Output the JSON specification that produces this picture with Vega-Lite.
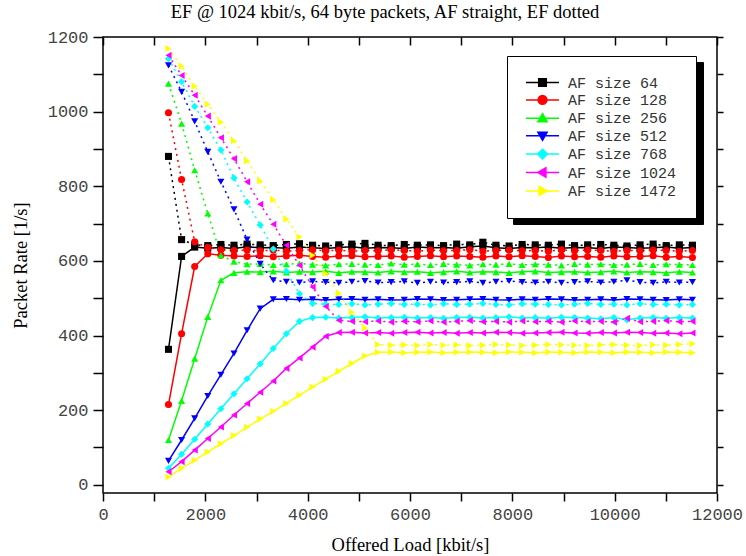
{
"$schema": "https://vega.github.io/schema/vega-lite/v6.json",
"width": 614, "height": 456,
"autosize": "none",
"padding": {"left": 103, "top": 37, "right": 29, "bottom": 63},
"background": "white",
"title": {"text": "EF @ 1024 kbit/s, 64 byte packets, AF straight, EF dotted", "font": "Liberation Serif", "fontSize": 18.5, "fontWeight": "normal", "color": "black", "anchor": "middle", "offset": 7, "dx": -25},
"datasets": {
"leg": [{"z":"AF size 64"},{"z":"AF size 128"},{"z":"AF size 256"},{"z":"AF size 512"},{"z":"AF size 768"},{"z":"AF size 1024"},{"z":"AF size 1472"}],
"main": [
{"l":1280,"z":"64","t":"AF","r":363},{"l":1536,"z":"64","t":"AF","r":612},{"l":1792,"z":"64","t":"AF","r":637},{"l":2048,"z":"64","t":"AF","r":634},{"l":2304,"z":"64","t":"AF","r":636},{"l":2560,"z":"64","t":"AF","r":633},{"l":2816,"z":"64","t":"AF","r":638},{"l":3072,"z":"64","t":"AF","r":635},{"l":3328,"z":"64","t":"AF","r":636},{"l":3584,"z":"64","t":"AF","r":634},{"l":3840,"z":"64","t":"AF","r":637},{"l":4096,"z":"64","t":"AF","r":635},{"l":4352,"z":"64","t":"AF","r":633},{"l":4608,"z":"64","t":"AF","r":636},{"l":4864,"z":"64","t":"AF","r":638},{"l":5120,"z":"64","t":"AF","r":634},{"l":5376,"z":"64","t":"AF","r":636},{"l":5632,"z":"64","t":"AF","r":635},{"l":5888,"z":"64","t":"AF","r":633},{"l":6144,"z":"64","t":"AF","r":637},{"l":6400,"z":"64","t":"AF","r":635},{"l":6656,"z":"64","t":"AF","r":636},{"l":6912,"z":"64","t":"AF","r":634},{"l":7168,"z":"64","t":"AF","r":638},{"l":7424,"z":"64","t":"AF","r":640},{"l":7680,"z":"64","t":"AF","r":635},{"l":7936,"z":"64","t":"AF","r":633},{"l":8192,"z":"64","t":"AF","r":636},{"l":8448,"z":"64","t":"AF","r":635},{"l":8704,"z":"64","t":"AF","r":637},{"l":8960,"z":"64","t":"AF","r":634},{"l":9216,"z":"64","t":"AF","r":636},{"l":9472,"z":"64","t":"AF","r":635},{"l":9728,"z":"64","t":"AF","r":633},{"l":9984,"z":"64","t":"AF","r":637},{"l":10240,"z":"64","t":"AF","r":636},{"l":10496,"z":"64","t":"AF","r":634},{"l":10752,"z":"64","t":"AF","r":635},{"l":11008,"z":"64","t":"AF","r":637},{"l":11264,"z":"64","t":"AF","r":634},{"l":11520,"z":"64","t":"AF","r":636},
{"l":1280,"z":"64","t":"EF","r":880},{"l":1536,"z":"64","t":"EF","r":657},{"l":1792,"z":"64","t":"EF","r":643},{"l":2048,"z":"64","t":"EF","r":641},{"l":2304,"z":"64","t":"EF","r":644},{"l":2560,"z":"64","t":"EF","r":642},{"l":2816,"z":"64","t":"EF","r":645},{"l":3072,"z":"64","t":"EF","r":643},{"l":3328,"z":"64","t":"EF","r":641},{"l":3584,"z":"64","t":"EF","r":644},{"l":3840,"z":"64","t":"EF","r":646},{"l":4096,"z":"64","t":"EF","r":642},{"l":4352,"z":"64","t":"EF","r":640},{"l":4608,"z":"64","t":"EF","r":643},{"l":4864,"z":"64","t":"EF","r":645},{"l":5120,"z":"64","t":"EF","r":647},{"l":5376,"z":"64","t":"EF","r":642},{"l":5632,"z":"64","t":"EF","r":641},{"l":5888,"z":"64","t":"EF","r":644},{"l":6144,"z":"64","t":"EF","r":642},{"l":6400,"z":"64","t":"EF","r":643},{"l":6656,"z":"64","t":"EF","r":641},{"l":6912,"z":"64","t":"EF","r":645},{"l":7168,"z":"64","t":"EF","r":643},{"l":7424,"z":"64","t":"EF","r":650},{"l":7680,"z":"64","t":"EF","r":642},{"l":7936,"z":"64","t":"EF","r":640},{"l":8192,"z":"64","t":"EF","r":644},{"l":8448,"z":"64","t":"EF","r":643},{"l":8704,"z":"64","t":"EF","r":642},{"l":8960,"z":"64","t":"EF","r":645},{"l":9216,"z":"64","t":"EF","r":641},{"l":9472,"z":"64","t":"EF","r":643},{"l":9728,"z":"64","t":"EF","r":644},{"l":9984,"z":"64","t":"EF","r":642},{"l":10240,"z":"64","t":"EF","r":640},{"l":10496,"z":"64","t":"EF","r":643},{"l":10752,"z":"64","t":"EF","r":645},{"l":11008,"z":"64","t":"EF","r":641},{"l":11264,"z":"64","t":"EF","r":643},{"l":11520,"z":"64","t":"EF","r":642},
{"l":1280,"z":"128","t":"AF","r":215},{"l":1536,"z":"128","t":"AF","r":405},{"l":1792,"z":"128","t":"AF","r":585},{"l":2048,"z":"128","t":"AF","r":619},{"l":2304,"z":"128","t":"AF","r":615},{"l":2560,"z":"128","t":"AF","r":613},{"l":2816,"z":"128","t":"AF","r":612},{"l":3072,"z":"128","t":"AF","r":614},{"l":3328,"z":"128","t":"AF","r":611},{"l":3584,"z":"128","t":"AF","r":613},{"l":3840,"z":"128","t":"AF","r":615},{"l":4096,"z":"128","t":"AF","r":612},{"l":4352,"z":"128","t":"AF","r":610},{"l":4608,"z":"128","t":"AF","r":613},{"l":4864,"z":"128","t":"AF","r":614},{"l":5120,"z":"128","t":"AF","r":611},{"l":5376,"z":"128","t":"AF","r":612},{"l":5632,"z":"128","t":"AF","r":613},{"l":5888,"z":"128","t":"AF","r":610},{"l":6144,"z":"128","t":"AF","r":612},{"l":6400,"z":"128","t":"AF","r":614},{"l":6656,"z":"128","t":"AF","r":611},{"l":6912,"z":"128","t":"AF","r":613},{"l":7168,"z":"128","t":"AF","r":612},{"l":7424,"z":"128","t":"AF","r":610},{"l":7680,"z":"128","t":"AF","r":613},{"l":7936,"z":"128","t":"AF","r":611},{"l":8192,"z":"128","t":"AF","r":614},{"l":8448,"z":"128","t":"AF","r":612},{"l":8704,"z":"128","t":"AF","r":609},{"l":8960,"z":"128","t":"AF","r":613},{"l":9216,"z":"128","t":"AF","r":611},{"l":9472,"z":"128","t":"AF","r":612},{"l":9728,"z":"128","t":"AF","r":610},{"l":9984,"z":"128","t":"AF","r":613},{"l":10240,"z":"128","t":"AF","r":611},{"l":10496,"z":"128","t":"AF","r":612},{"l":10752,"z":"128","t":"AF","r":614},{"l":11008,"z":"128","t":"AF","r":610},{"l":11264,"z":"128","t":"AF","r":612},{"l":11520,"z":"128","t":"AF","r":609},
{"l":1280,"z":"128","t":"EF","r":997},{"l":1536,"z":"128","t":"EF","r":818},{"l":1792,"z":"128","t":"EF","r":651},{"l":2048,"z":"128","t":"EF","r":636},{"l":2304,"z":"128","t":"EF","r":630},{"l":2560,"z":"128","t":"EF","r":628},{"l":2816,"z":"128","t":"EF","r":629},{"l":3072,"z":"128","t":"EF","r":627},{"l":3328,"z":"128","t":"EF","r":629},{"l":3584,"z":"128","t":"EF","r":626},{"l":3840,"z":"128","t":"EF","r":628},{"l":4096,"z":"128","t":"EF","r":630},{"l":4352,"z":"128","t":"EF","r":627},{"l":4608,"z":"128","t":"EF","r":629},{"l":4864,"z":"128","t":"EF","r":626},{"l":5120,"z":"128","t":"EF","r":628},{"l":5376,"z":"128","t":"EF","r":627},{"l":5632,"z":"128","t":"EF","r":630},{"l":5888,"z":"128","t":"EF","r":628},{"l":6144,"z":"128","t":"EF","r":626},{"l":6400,"z":"128","t":"EF","r":629},{"l":6656,"z":"128","t":"EF","r":627},{"l":6912,"z":"128","t":"EF","r":628},{"l":7168,"z":"128","t":"EF","r":630},{"l":7424,"z":"128","t":"EF","r":626},{"l":7680,"z":"128","t":"EF","r":628},{"l":7936,"z":"128","t":"EF","r":629},{"l":8192,"z":"128","t":"EF","r":627},{"l":8448,"z":"128","t":"EF","r":628},{"l":8704,"z":"128","t":"EF","r":626},{"l":8960,"z":"128","t":"EF","r":630},{"l":9216,"z":"128","t":"EF","r":627},{"l":9472,"z":"128","t":"EF","r":629},{"l":9728,"z":"128","t":"EF","r":628},{"l":9984,"z":"128","t":"EF","r":626},{"l":10240,"z":"128","t":"EF","r":628},{"l":10496,"z":"128","t":"EF","r":627},{"l":10752,"z":"128","t":"EF","r":629},{"l":11008,"z":"128","t":"EF","r":628},{"l":11264,"z":"128","t":"EF","r":626},{"l":11520,"z":"128","t":"EF","r":628},
{"l":1280,"z":"256","t":"AF","r":120},{"l":1536,"z":"256","t":"AF","r":225},{"l":1792,"z":"256","t":"AF","r":338},{"l":2048,"z":"256","t":"AF","r":450},{"l":2304,"z":"256","t":"AF","r":548},{"l":2560,"z":"256","t":"AF","r":568},{"l":2816,"z":"256","t":"AF","r":571},{"l":3072,"z":"256","t":"AF","r":570},{"l":3328,"z":"256","t":"AF","r":572},{"l":3584,"z":"256","t":"AF","r":569},{"l":3840,"z":"256","t":"AF","r":571},{"l":4096,"z":"256","t":"AF","r":570},{"l":4352,"z":"256","t":"AF","r":572},{"l":4608,"z":"256","t":"AF","r":568},{"l":4864,"z":"256","t":"AF","r":571},{"l":5120,"z":"256","t":"AF","r":570},{"l":5376,"z":"256","t":"AF","r":569},{"l":5632,"z":"256","t":"AF","r":572},{"l":5888,"z":"256","t":"AF","r":570},{"l":6144,"z":"256","t":"AF","r":571},{"l":6400,"z":"256","t":"AF","r":568},{"l":6656,"z":"256","t":"AF","r":570},{"l":6912,"z":"256","t":"AF","r":572},{"l":7168,"z":"256","t":"AF","r":569},{"l":7424,"z":"256","t":"AF","r":571},{"l":7680,"z":"256","t":"AF","r":570},{"l":7936,"z":"256","t":"AF","r":568},{"l":8192,"z":"256","t":"AF","r":571},{"l":8448,"z":"256","t":"AF","r":572},{"l":8704,"z":"256","t":"AF","r":569},{"l":8960,"z":"256","t":"AF","r":570},{"l":9216,"z":"256","t":"AF","r":571},{"l":9472,"z":"256","t":"AF","r":569},{"l":9728,"z":"256","t":"AF","r":570},{"l":9984,"z":"256","t":"AF","r":572},{"l":10240,"z":"256","t":"AF","r":569},{"l":10496,"z":"256","t":"AF","r":571},{"l":10752,"z":"256","t":"AF","r":570},{"l":11008,"z":"256","t":"AF","r":568},{"l":11264,"z":"256","t":"AF","r":571},{"l":11520,"z":"256","t":"AF","r":569},
{"l":1280,"z":"256","t":"EF","r":1075},{"l":1536,"z":"256","t":"EF","r":968},{"l":1792,"z":"256","t":"EF","r":843},{"l":2048,"z":"256","t":"EF","r":727},{"l":2304,"z":"256","t":"EF","r":615},{"l":2560,"z":"256","t":"EF","r":598},{"l":2816,"z":"256","t":"EF","r":591},{"l":3072,"z":"256","t":"EF","r":592},{"l":3328,"z":"256","t":"EF","r":589},{"l":3584,"z":"256","t":"EF","r":591},{"l":3840,"z":"256","t":"EF","r":593},{"l":4096,"z":"256","t":"EF","r":590},{"l":4352,"z":"256","t":"EF","r":588},{"l":4608,"z":"256","t":"EF","r":591},{"l":4864,"z":"256","t":"EF","r":592},{"l":5120,"z":"256","t":"EF","r":590},{"l":5376,"z":"256","t":"EF","r":589},{"l":5632,"z":"256","t":"EF","r":593},{"l":5888,"z":"256","t":"EF","r":590},{"l":6144,"z":"256","t":"EF","r":591},{"l":6400,"z":"256","t":"EF","r":589},{"l":6656,"z":"256","t":"EF","r":592},{"l":6912,"z":"256","t":"EF","r":590},{"l":7168,"z":"256","t":"EF","r":588},{"l":7424,"z":"256","t":"EF","r":591},{"l":7680,"z":"256","t":"EF","r":590},{"l":7936,"z":"256","t":"EF","r":592},{"l":8192,"z":"256","t":"EF","r":589},{"l":8448,"z":"256","t":"EF","r":591},{"l":8704,"z":"256","t":"EF","r":590},{"l":8960,"z":"256","t":"EF","r":588},{"l":9216,"z":"256","t":"EF","r":592},{"l":9472,"z":"256","t":"EF","r":590},{"l":9728,"z":"256","t":"EF","r":591},{"l":9984,"z":"256","t":"EF","r":589},{"l":10240,"z":"256","t":"EF","r":590},{"l":10496,"z":"256","t":"EF","r":592},{"l":10752,"z":"256","t":"EF","r":589},{"l":11008,"z":"256","t":"EF","r":591},{"l":11264,"z":"256","t":"EF","r":590},{"l":11520,"z":"256","t":"EF","r":589},
{"l":1280,"z":"512","t":"AF","r":64},{"l":1536,"z":"512","t":"AF","r":120},{"l":1792,"z":"512","t":"AF","r":178},{"l":2048,"z":"512","t":"AF","r":238},{"l":2304,"z":"512","t":"AF","r":295},{"l":2560,"z":"512","t":"AF","r":352},{"l":2816,"z":"512","t":"AF","r":414},{"l":3072,"z":"512","t":"AF","r":472},{"l":3328,"z":"512","t":"AF","r":497},{"l":3584,"z":"512","t":"AF","r":498},{"l":3840,"z":"512","t":"AF","r":496},{"l":4096,"z":"512","t":"AF","r":497},{"l":4352,"z":"512","t":"AF","r":495},{"l":4608,"z":"512","t":"AF","r":497},{"l":4864,"z":"512","t":"AF","r":498},{"l":5120,"z":"512","t":"AF","r":496},{"l":5376,"z":"512","t":"AF","r":497},{"l":5632,"z":"512","t":"AF","r":495},{"l":5888,"z":"512","t":"AF","r":496},{"l":6144,"z":"512","t":"AF","r":498},{"l":6400,"z":"512","t":"AF","r":497},{"l":6656,"z":"512","t":"AF","r":495},{"l":6912,"z":"512","t":"AF","r":496},{"l":7168,"z":"512","t":"AF","r":497},{"l":7424,"z":"512","t":"AF","r":498},{"l":7680,"z":"512","t":"AF","r":496},{"l":7936,"z":"512","t":"AF","r":495},{"l":8192,"z":"512","t":"AF","r":497},{"l":8448,"z":"512","t":"AF","r":496},{"l":8704,"z":"512","t":"AF","r":498},{"l":8960,"z":"512","t":"AF","r":497},{"l":9216,"z":"512","t":"AF","r":495},{"l":9472,"z":"512","t":"AF","r":496},{"l":9728,"z":"512","t":"AF","r":497},{"l":9984,"z":"512","t":"AF","r":495},{"l":10240,"z":"512","t":"AF","r":498},{"l":10496,"z":"512","t":"AF","r":497},{"l":10752,"z":"512","t":"AF","r":496},{"l":11008,"z":"512","t":"AF","r":495},{"l":11264,"z":"512","t":"AF","r":497},{"l":11520,"z":"512","t":"AF","r":496},
{"l":1280,"z":"512","t":"EF","r":1124},{"l":1536,"z":"512","t":"EF","r":1053},{"l":1792,"z":"512","t":"EF","r":974},{"l":2048,"z":"512","t":"EF","r":892},{"l":2304,"z":"512","t":"EF","r":812},{"l":2560,"z":"512","t":"EF","r":738},{"l":2816,"z":"512","t":"EF","r":657},{"l":3072,"z":"512","t":"EF","r":592},{"l":3328,"z":"512","t":"EF","r":548},{"l":3584,"z":"512","t":"EF","r":544},{"l":3840,"z":"512","t":"EF","r":542},{"l":4096,"z":"512","t":"EF","r":545},{"l":4352,"z":"512","t":"EF","r":543},{"l":4608,"z":"512","t":"EF","r":541},{"l":4864,"z":"512","t":"EF","r":544},{"l":5120,"z":"512","t":"EF","r":546},{"l":5376,"z":"512","t":"EF","r":542},{"l":5632,"z":"512","t":"EF","r":543},{"l":5888,"z":"512","t":"EF","r":545},{"l":6144,"z":"512","t":"EF","r":541},{"l":6400,"z":"512","t":"EF","r":544},{"l":6656,"z":"512","t":"EF","r":542},{"l":6912,"z":"512","t":"EF","r":543},{"l":7168,"z":"512","t":"EF","r":545},{"l":7424,"z":"512","t":"EF","r":541},{"l":7680,"z":"512","t":"EF","r":544},{"l":7936,"z":"512","t":"EF","r":546},{"l":8192,"z":"512","t":"EF","r":543},{"l":8448,"z":"512","t":"EF","r":542},{"l":8704,"z":"512","t":"EF","r":544},{"l":8960,"z":"512","t":"EF","r":541},{"l":9216,"z":"512","t":"EF","r":543},{"l":9472,"z":"512","t":"EF","r":545},{"l":9728,"z":"512","t":"EF","r":542},{"l":9984,"z":"512","t":"EF","r":544},{"l":10240,"z":"512","t":"EF","r":548},{"l":10496,"z":"512","t":"EF","r":543},{"l":10752,"z":"512","t":"EF","r":541},{"l":11008,"z":"512","t":"EF","r":544},{"l":11264,"z":"512","t":"EF","r":542},{"l":11520,"z":"512","t":"EF","r":543},
{"l":1280,"z":"768","t":"AF","r":44},{"l":1536,"z":"768","t":"AF","r":82},{"l":1792,"z":"768","t":"AF","r":122},{"l":2048,"z":"768","t":"AF","r":163},{"l":2304,"z":"768","t":"AF","r":204},{"l":2560,"z":"768","t":"AF","r":244},{"l":2816,"z":"768","t":"AF","r":284},{"l":3072,"z":"768","t":"AF","r":324},{"l":3328,"z":"768","t":"AF","r":365},{"l":3584,"z":"768","t":"AF","r":405},{"l":3840,"z":"768","t":"AF","r":438},{"l":4096,"z":"768","t":"AF","r":448},{"l":4352,"z":"768","t":"AF","r":449},{"l":4608,"z":"768","t":"AF","r":447},{"l":4864,"z":"768","t":"AF","r":448},{"l":5120,"z":"768","t":"AF","r":450},{"l":5376,"z":"768","t":"AF","r":447},{"l":5632,"z":"768","t":"AF","r":448},{"l":5888,"z":"768","t":"AF","r":449},{"l":6144,"z":"768","t":"AF","r":447},{"l":6400,"z":"768","t":"AF","r":448},{"l":6656,"z":"768","t":"AF","r":446},{"l":6912,"z":"768","t":"AF","r":448},{"l":7168,"z":"768","t":"AF","r":449},{"l":7424,"z":"768","t":"AF","r":447},{"l":7680,"z":"768","t":"AF","r":448},{"l":7936,"z":"768","t":"AF","r":450},{"l":8192,"z":"768","t":"AF","r":447},{"l":8448,"z":"768","t":"AF","r":448},{"l":8704,"z":"768","t":"AF","r":446},{"l":8960,"z":"768","t":"AF","r":449},{"l":9216,"z":"768","t":"AF","r":448},{"l":9472,"z":"768","t":"AF","r":447},{"l":9728,"z":"768","t":"AF","r":445},{"l":9984,"z":"768","t":"AF","r":448},{"l":10240,"z":"768","t":"AF","r":442},{"l":10496,"z":"768","t":"AF","r":447},{"l":10752,"z":"768","t":"AF","r":448},{"l":11008,"z":"768","t":"AF","r":446},{"l":11264,"z":"768","t":"AF","r":448},{"l":11520,"z":"768","t":"AF","r":447},
{"l":1280,"z":"768","t":"EF","r":1142},{"l":1536,"z":"768","t":"EF","r":1080},{"l":1792,"z":"768","t":"EF","r":1014},{"l":2048,"z":"768","t":"EF","r":957},{"l":2304,"z":"768","t":"EF","r":897},{"l":2560,"z":"768","t":"EF","r":822},{"l":2816,"z":"768","t":"EF","r":758},{"l":3072,"z":"768","t":"EF","r":696},{"l":3328,"z":"768","t":"EF","r":632},{"l":3584,"z":"768","t":"EF","r":572},{"l":3840,"z":"768","t":"EF","r":512},{"l":4096,"z":"768","t":"EF","r":486},{"l":4352,"z":"768","t":"EF","r":484},{"l":4608,"z":"768","t":"EF","r":483},{"l":4864,"z":"768","t":"EF","r":485},{"l":5120,"z":"768","t":"EF","r":482},{"l":5376,"z":"768","t":"EF","r":484},{"l":5632,"z":"768","t":"EF","r":486},{"l":5888,"z":"768","t":"EF","r":483},{"l":6144,"z":"768","t":"EF","r":484},{"l":6400,"z":"768","t":"EF","r":482},{"l":6656,"z":"768","t":"EF","r":485},{"l":6912,"z":"768","t":"EF","r":483},{"l":7168,"z":"768","t":"EF","r":484},{"l":7424,"z":"768","t":"EF","r":486},{"l":7680,"z":"768","t":"EF","r":483},{"l":7936,"z":"768","t":"EF","r":482},{"l":8192,"z":"768","t":"EF","r":485},{"l":8448,"z":"768","t":"EF","r":484},{"l":8704,"z":"768","t":"EF","r":483},{"l":8960,"z":"768","t":"EF","r":482},{"l":9216,"z":"768","t":"EF","r":484},{"l":9472,"z":"768","t":"EF","r":486},{"l":9728,"z":"768","t":"EF","r":483},{"l":9984,"z":"768","t":"EF","r":484},{"l":10240,"z":"768","t":"EF","r":482},{"l":10496,"z":"768","t":"EF","r":485},{"l":10752,"z":"768","t":"EF","r":483},{"l":11008,"z":"768","t":"EF","r":484},{"l":11264,"z":"768","t":"EF","r":482},{"l":11520,"z":"768","t":"EF","r":483},
{"l":1280,"z":"1024","t":"AF","r":35},{"l":1536,"z":"1024","t":"AF","r":62},{"l":1792,"z":"1024","t":"AF","r":93},{"l":2048,"z":"1024","t":"AF","r":124},{"l":2304,"z":"1024","t":"AF","r":155},{"l":2560,"z":"1024","t":"AF","r":187},{"l":2816,"z":"1024","t":"AF","r":218},{"l":3072,"z":"1024","t":"AF","r":248},{"l":3328,"z":"1024","t":"AF","r":278},{"l":3584,"z":"1024","t":"AF","r":312},{"l":3840,"z":"1024","t":"AF","r":340},{"l":4096,"z":"1024","t":"AF","r":369},{"l":4352,"z":"1024","t":"AF","r":398},{"l":4608,"z":"1024","t":"AF","r":408},{"l":4864,"z":"1024","t":"AF","r":409},{"l":5120,"z":"1024","t":"AF","r":407},{"l":5376,"z":"1024","t":"AF","r":408},{"l":5632,"z":"1024","t":"AF","r":406},{"l":5888,"z":"1024","t":"AF","r":408},{"l":6144,"z":"1024","t":"AF","r":409},{"l":6400,"z":"1024","t":"AF","r":407},{"l":6656,"z":"1024","t":"AF","r":408},{"l":6912,"z":"1024","t":"AF","r":406},{"l":7168,"z":"1024","t":"AF","r":408},{"l":7424,"z":"1024","t":"AF","r":407},{"l":7680,"z":"1024","t":"AF","r":409},{"l":7936,"z":"1024","t":"AF","r":408},{"l":8192,"z":"1024","t":"AF","r":406},{"l":8448,"z":"1024","t":"AF","r":407},{"l":8704,"z":"1024","t":"AF","r":408},{"l":8960,"z":"1024","t":"AF","r":409},{"l":9216,"z":"1024","t":"AF","r":407},{"l":9472,"z":"1024","t":"AF","r":406},{"l":9728,"z":"1024","t":"AF","r":408},{"l":9984,"z":"1024","t":"AF","r":407},{"l":10240,"z":"1024","t":"AF","r":409},{"l":10496,"z":"1024","t":"AF","r":408},{"l":10752,"z":"1024","t":"AF","r":406},{"l":11008,"z":"1024","t":"AF","r":407},{"l":11264,"z":"1024","t":"AF","r":405},{"l":11520,"z":"1024","t":"AF","r":407},
{"l":1280,"z":"1024","t":"EF","r":1151},{"l":1536,"z":"1024","t":"EF","r":1097},{"l":1792,"z":"1024","t":"EF","r":1044},{"l":2048,"z":"1024","t":"EF","r":988},{"l":2304,"z":"1024","t":"EF","r":930},{"l":2560,"z":"1024","t":"EF","r":874},{"l":2816,"z":"1024","t":"EF","r":812},{"l":3072,"z":"1024","t":"EF","r":752},{"l":3328,"z":"1024","t":"EF","r":698},{"l":3584,"z":"1024","t":"EF","r":642},{"l":3840,"z":"1024","t":"EF","r":588},{"l":4096,"z":"1024","t":"EF","r":530},{"l":4352,"z":"1024","t":"EF","r":478},{"l":4608,"z":"1024","t":"EF","r":441},{"l":4864,"z":"1024","t":"EF","r":438},{"l":5120,"z":"1024","t":"EF","r":437},{"l":5376,"z":"1024","t":"EF","r":439},{"l":5632,"z":"1024","t":"EF","r":436},{"l":5888,"z":"1024","t":"EF","r":438},{"l":6144,"z":"1024","t":"EF","r":437},{"l":6400,"z":"1024","t":"EF","r":439},{"l":6656,"z":"1024","t":"EF","r":436},{"l":6912,"z":"1024","t":"EF","r":438},{"l":7168,"z":"1024","t":"EF","r":440},{"l":7424,"z":"1024","t":"EF","r":437},{"l":7680,"z":"1024","t":"EF","r":438},{"l":7936,"z":"1024","t":"EF","r":436},{"l":8192,"z":"1024","t":"EF","r":439},{"l":8448,"z":"1024","t":"EF","r":437},{"l":8704,"z":"1024","t":"EF","r":438},{"l":8960,"z":"1024","t":"EF","r":436},{"l":9216,"z":"1024","t":"EF","r":439},{"l":9472,"z":"1024","t":"EF","r":437},{"l":9728,"z":"1024","t":"EF","r":438},{"l":9984,"z":"1024","t":"EF","r":436},{"l":10240,"z":"1024","t":"EF","r":446},{"l":10496,"z":"1024","t":"EF","r":437},{"l":10752,"z":"1024","t":"EF","r":438},{"l":11008,"z":"1024","t":"EF","r":440},{"l":11264,"z":"1024","t":"EF","r":437},{"l":11520,"z":"1024","t":"EF","r":438},
{"l":1280,"z":"1472","t":"AF","r":21},{"l":1536,"z":"1472","t":"AF","r":44},{"l":1792,"z":"1472","t":"AF","r":66},{"l":2048,"z":"1472","t":"AF","r":88},{"l":2304,"z":"1472","t":"AF","r":110},{"l":2560,"z":"1472","t":"AF","r":132},{"l":2816,"z":"1472","t":"AF","r":154},{"l":3072,"z":"1472","t":"AF","r":176},{"l":3328,"z":"1472","t":"AF","r":197},{"l":3584,"z":"1472","t":"AF","r":218},{"l":3840,"z":"1472","t":"AF","r":240},{"l":4096,"z":"1472","t":"AF","r":262},{"l":4352,"z":"1472","t":"AF","r":283},{"l":4608,"z":"1472","t":"AF","r":304},{"l":4864,"z":"1472","t":"AF","r":325},{"l":5120,"z":"1472","t":"AF","r":345},{"l":5376,"z":"1472","t":"AF","r":355},{"l":5632,"z":"1472","t":"AF","r":356},{"l":5888,"z":"1472","t":"AF","r":354},{"l":6144,"z":"1472","t":"AF","r":355},{"l":6400,"z":"1472","t":"AF","r":356},{"l":6656,"z":"1472","t":"AF","r":354},{"l":6912,"z":"1472","t":"AF","r":355},{"l":7168,"z":"1472","t":"AF","r":356},{"l":7424,"z":"1472","t":"AF","r":355},{"l":7680,"z":"1472","t":"AF","r":354},{"l":7936,"z":"1472","t":"AF","r":356},{"l":8192,"z":"1472","t":"AF","r":355},{"l":8448,"z":"1472","t":"AF","r":354},{"l":8704,"z":"1472","t":"AF","r":356},{"l":8960,"z":"1472","t":"AF","r":355},{"l":9216,"z":"1472","t":"AF","r":354},{"l":9472,"z":"1472","t":"AF","r":356},{"l":9728,"z":"1472","t":"AF","r":355},{"l":9984,"z":"1472","t":"AF","r":354},{"l":10240,"z":"1472","t":"AF","r":356},{"l":10496,"z":"1472","t":"AF","r":355},{"l":10752,"z":"1472","t":"AF","r":354},{"l":11008,"z":"1472","t":"AF","r":356},{"l":11264,"z":"1472","t":"AF","r":355},{"l":11520,"z":"1472","t":"AF","r":354},
{"l":1280,"z":"1472","t":"EF","r":1169},{"l":1536,"z":"1472","t":"EF","r":1122},{"l":1792,"z":"1472","t":"EF","r":1068},{"l":2048,"z":"1472","t":"EF","r":1020},{"l":2304,"z":"1472","t":"EF","r":972},{"l":2560,"z":"1472","t":"EF","r":922},{"l":2816,"z":"1472","t":"EF","r":868},{"l":3072,"z":"1472","t":"EF","r":814},{"l":3328,"z":"1472","t":"EF","r":764},{"l":3584,"z":"1472","t":"EF","r":712},{"l":3840,"z":"1472","t":"EF","r":664},{"l":4096,"z":"1472","t":"EF","r":615},{"l":4352,"z":"1472","t":"EF","r":566},{"l":4608,"z":"1472","t":"EF","r":513},{"l":4864,"z":"1472","t":"EF","r":462},{"l":5120,"z":"1472","t":"EF","r":420},{"l":5376,"z":"1472","t":"EF","r":376},{"l":5632,"z":"1472","t":"EF","r":374},{"l":5888,"z":"1472","t":"EF","r":375},{"l":6144,"z":"1472","t":"EF","r":373},{"l":6400,"z":"1472","t":"EF","r":376},{"l":6656,"z":"1472","t":"EF","r":374},{"l":6912,"z":"1472","t":"EF","r":375},{"l":7168,"z":"1472","t":"EF","r":373},{"l":7424,"z":"1472","t":"EF","r":374},{"l":7680,"z":"1472","t":"EF","r":376},{"l":7936,"z":"1472","t":"EF","r":375},{"l":8192,"z":"1472","t":"EF","r":373},{"l":8448,"z":"1472","t":"EF","r":374},{"l":8704,"z":"1472","t":"EF","r":376},{"l":8960,"z":"1472","t":"EF","r":375},{"l":9216,"z":"1472","t":"EF","r":374},{"l":9472,"z":"1472","t":"EF","r":373},{"l":9728,"z":"1472","t":"EF","r":375},{"l":9984,"z":"1472","t":"EF","r":376},{"l":10240,"z":"1472","t":"EF","r":374},{"l":10496,"z":"1472","t":"EF","r":373},{"l":10752,"z":"1472","t":"EF","r":375},{"l":11008,"z":"1472","t":"EF","r":374},{"l":11264,"z":"1472","t":"EF","r":376},{"l":11520,"z":"1472","t":"EF","r":378}
]},
"data": {"name": "main"},
"layer": [
{"transform": [{"filter": "datum.t === 'AF'"}],
 "mark": {"type": "line", "strokeWidth": 1.5},
 "encoding": {
  "x": {"field": "l", "type": "quantitative", "scale": {"domain": [0, 12000], "nice": false, "zero": false},
   "axis": {"orient": "bottom", "values": [0,1000,2000,3000,4000,5000,6000,7000,8000,9000,10000,11000,12000], "format": "d", "labelExpr": "datum.value % 2000 === 0 ? datum.label : ''", "title": "Offered Load [kbit/s]", "grid": false, "domain": false, "tickColor": "black", "tickWidth": 1.5, "tickSize": 8, "labelFont": "Liberation Mono", "labelFontSize": 17, "labelColor": "#444", "labelPadding": 5, "labelFlush": false, "labelOverlap": false, "labelBound": false, "titleFont": "Liberation Serif", "titleFontSize": 18.5, "titleFontWeight": "normal", "titleColor": "black", "titlePadding": 13}},
  "y": {"field": "r", "type": "quantitative", "scale": {"domain": [-22, 1200], "nice": false, "zero": false},
   "axis": {"orient": "left", "values": [0,100,200,300,400,500,600,700,800,900,1000,1100,1200], "format": "d", "labelExpr": "datum.value % 200 === 0 ? datum.label : ''", "title": "Packet Rate [1/s]", "grid": false, "domain": false, "tickColor": "black", "tickWidth": 1.5, "tickSize": 10, "labelFont": "Liberation Mono", "labelFontSize": 17, "labelColor": "#444", "labelPadding": 5, "labelFlush": false, "labelOverlap": false, "labelBound": false, "titleFont": "Liberation Serif", "titleFontSize": 18.5, "titleFontWeight": "normal", "titleColor": "black", "titlePadding": 17}},
  "color": {"field": "z", "type": "nominal", "legend": null,
   "scale": {"domain": ["64","128","256","512","768","1024","1472"], "range": ["#000000","#ff0000","#00ff00","#0000ff","#00ffff","#ff00ff","#ffff00"]}}
 }},
{"transform": [{"filter": "datum.t === 'EF'"}],
 "mark": {"type": "line", "strokeWidth": 1.5, "strokeDash": [2, 4]},
 "encoding": {
  "x": {"field": "l", "type": "quantitative", "axis": null},
  "y": {"field": "r", "type": "quantitative", "axis": null},
  "color": {"field": "z", "type": "nominal", "legend": null,
   "scale": {"domain": ["64","128","256","512","768","1024","1472"], "range": ["#000000","#ff0000","#00ff00","#0000ff","#00ffff","#ff00ff","#ffff00"]}}
 }},
{"mark": {"type": "point", "filled": true, "size": 50, "opacity": 1},
 "encoding": {
  "x": {"field": "l", "type": "quantitative", "axis": null},
  "y": {"field": "r", "type": "quantitative", "axis": null},
  "color": {"field": "z", "type": "nominal", "legend": null,
   "scale": {"domain": ["64","128","256","512","768","1024","1472"], "range": ["#000000","#ff0000","#00ff00","#0000ff","#00ffff","#ff00ff","#ffff00"]}},
  "shape": {"field": "z", "type": "nominal", "legend": null, "scale": {"domain": ["64","128","256","512","768","1024","1472"], "range": ["square","circle","triangle-up","triangle-down","diamond","triangle-left","triangle-right"]}}
 }},
{"transform": [{"filter": "datum.t === 'AF'"}],
 "mark": {"type": "point", "filled": true, "opacity": 0},
 "encoding": {
  "x": {"field": "l", "type": "quantitative", "axis": null},
  "y": {"field": "r", "type": "quantitative", "axis": null},
  "color": {"field": "z", "type": "nominal",
   "scale": {"domain": ["64","128","256","512","768","1024","1472"], "range": ["#000000","#ff0000","#00ff00","#0000ff","#00ffff","#ff00ff","#ffff00"]},
   "legend": {"orient": "none", "legendX": 404, "legendY": 19, "title": null, "zindex": 1,
    "labelExpr": "'AF size ' + datum.label", "labelFont": "Liberation Mono", "labelFontSize": 15, "labelColor": "#333",
    "padding": 19, "rowPadding": 1.4, "symbolOffset": 9, "labelOffset": 18,
    "symbolSize": 64, "symbolStrokeWidth": 1.5, "symbolOpacity": 1,
    "fillColor": "white", "strokeColor": "black"}},
  "stroke": {"field": "z", "type": "nominal",
   "scale": {"domain": ["64","128","256","512","768","1024","1472"], "range": ["#000000","#ff0000","#00ff00","#0000ff","#00ffff","#ff00ff","#ffff00"]},
   "legend": {"orient": "none", "legendX": 404, "legendY": 19, "title": null, "zindex": 1,
    "labelExpr": "'AF size ' + datum.label", "labelFont": "Liberation Mono", "labelFontSize": 15, "labelColor": "#333",
    "padding": 19, "rowPadding": 1.4, "symbolOffset": 9, "labelOffset": 18,
    "symbolSize": 64, "symbolStrokeWidth": 1.5, "symbolOpacity": 1,
    "fillColor": "white", "strokeColor": "black"}},
  "shape": {"field": "z", "type": "nominal",
   "scale": {"domain": ["64","128","256","512","768","1024","1472"], "range": [
    "M-4.125,0H4.125M-0.95,-0.95H0.95V0.95H-0.95Z",
    "M-4.125,0H4.125M1.1,0A1.1,1.1,0,1,1,-1.1,0A1.1,1.1,0,1,1,1.1,0Z",
    "M-4.125,0H4.125M0,-1.15L1.15,0.85L-1.15,0.85Z",
    "M-4.125,0H4.125M0,1.15L1.15,-0.85L-1.15,-0.85Z",
    "M-4.125,0H4.125M0,-1.2L1.2,0L0,1.2L-1.2,0Z",
    "M-4.125,0H4.125M-1.15,0L0.85,-1.15L0.85,1.15Z",
    "M-4.125,0H4.125M1.15,0L-0.85,-1.15L-0.85,1.15Z"]},
   "legend": {"orient": "none", "legendX": 404, "legendY": 19, "title": null, "zindex": 1,
    "labelExpr": "'AF size ' + datum.label", "labelFont": "Liberation Mono", "labelFontSize": 15, "labelColor": "#333",
    "padding": 19, "rowPadding": 1.4, "symbolOffset": 9, "labelOffset": 18,
    "symbolSize": 64, "symbolStrokeWidth": 1.5, "symbolOpacity": 1,
    "fillColor": "white", "strokeColor": "black"}}
 }},
{"data": {"name": "leg"},
 "mark": {"type": "point", "filled": true, "opacity": 0},
 "encoding": {
  "shape": {"field": "z", "type": "nominal",
   "scale": {"domain": ["AF size 64","AF size 128","AF size 256","AF size 512","AF size 768","AF size 1024","AF size 1472"], "range": ["M-4.125,0H4.125M-1.2,-1.2H1.2V1.2H-1.2Z"]},
   "legend": {"orient": "none", "legendX": 410, "legendY": 25, "title": null, "zindex": 0,
    "labelExpr": "'\u00a0\u00a0\u00a0\u00a0\u00a0\u00a0\u00a0\u00a0\u00a0\u00a0\u00a0\u00a0'",
    "labelFont": "Liberation Mono", "labelFontSize": 15, "labelColor": "black",
    "padding": 19, "rowPadding": 1.0, "symbolOffset": 9, "labelOffset": 128,
    "symbolSize": 64, "symbolStrokeWidth": 1.5, "symbolOpacity": 1, "symbolFillColor": "black", "symbolStrokeColor": "black",
    "fillColor": "black", "strokeColor": "black"}}
 }},
{"mark": {"type": "point", "opacity": 0},
 "encoding": {
  "x": {"field": "l", "type": "quantitative",
   "axis": {"orient": "top", "offset": -8, "values": [0,1000,2000,3000,4000,5000,6000,7000,8000,9000,10000,11000,12000], "labels": false, "title": null, "grid": false, "domain": false, "tickColor": "black", "tickWidth": 1.5, "tickSize": 8}},
  "y": {"field": "r", "type": "quantitative",
   "axis": {"orient": "right", "values": [0,100,200,300,400,500,600,700,800,900,1000,1100,1200], "labels": false, "title": null, "grid": false, "domain": false, "tickColor": "black", "tickWidth": 1.5, "tickSize": 6}}
 }}
],
"resolve": {"scale": {"color": "independent", "stroke": "independent", "shape": "independent"}, "axis": {"x": "independent", "y": "independent"}},
"config": {"view": {"stroke": "black", "strokeWidth": 1.5}}
}
